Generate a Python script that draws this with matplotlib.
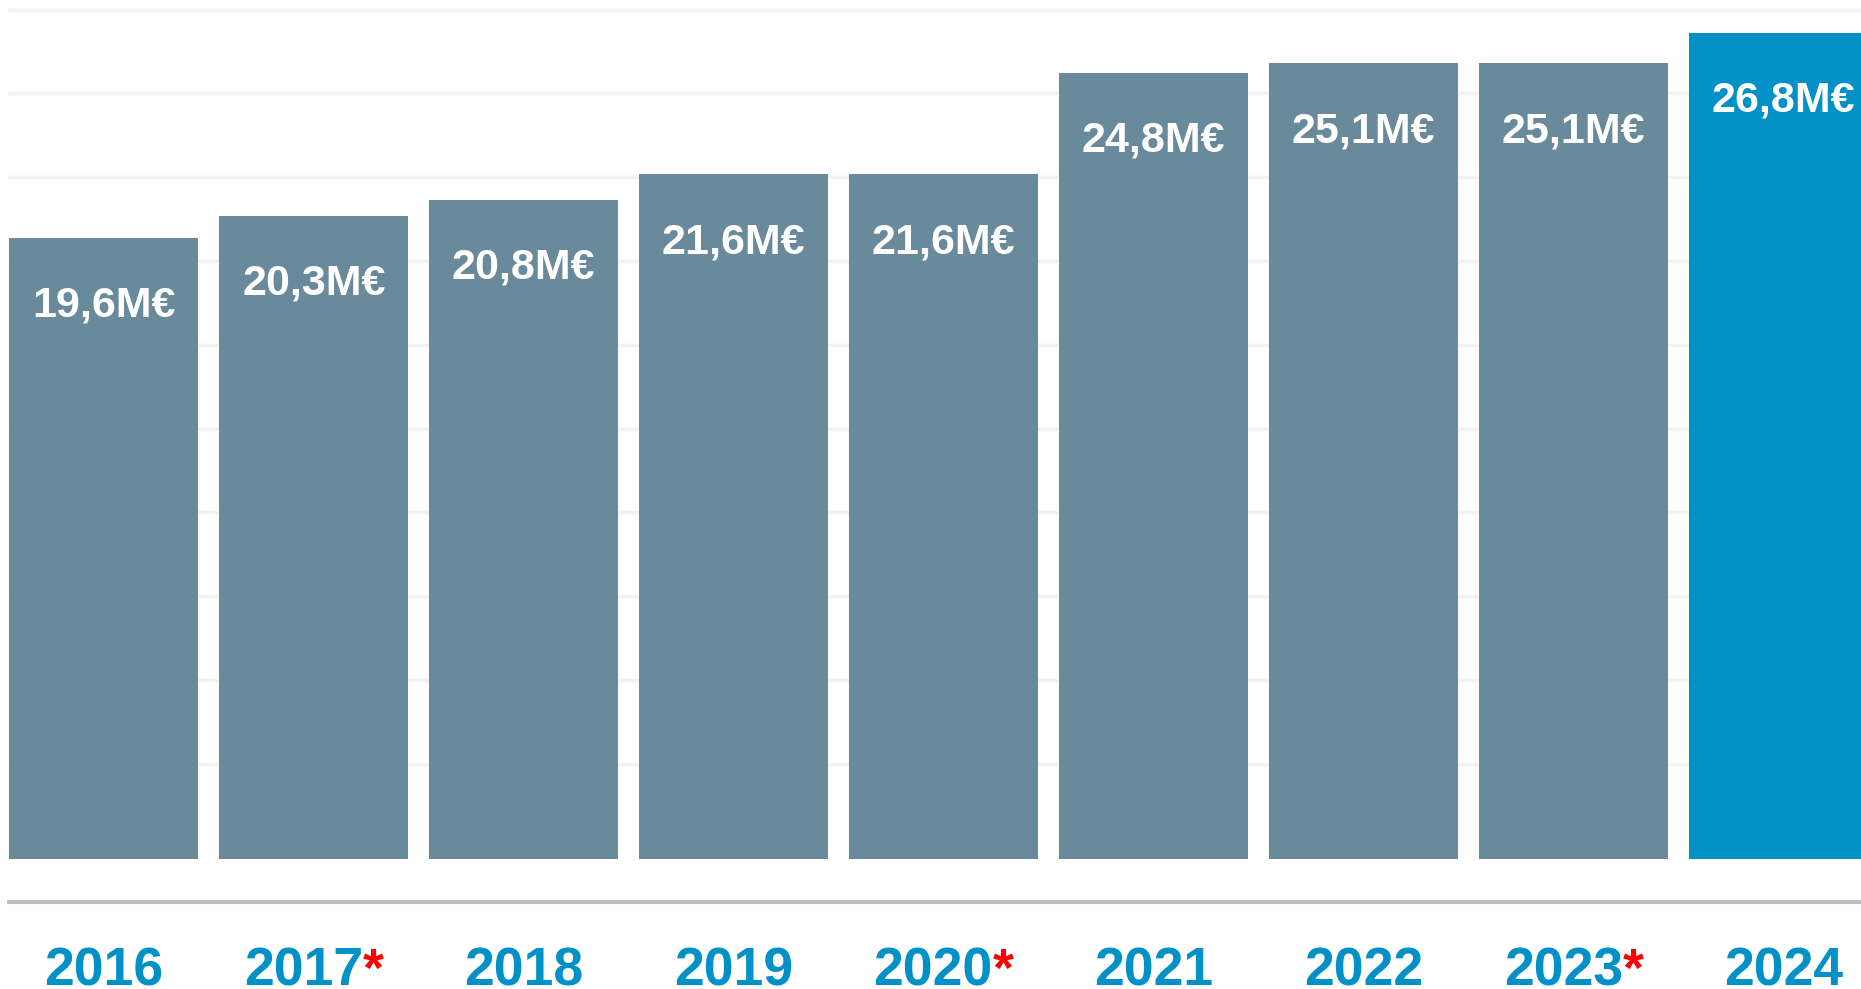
import matplotlib.pyplot as plt
import numpy as np

plt.rcParams['font.family'] = ['Liberation Sans', 'DejaVu Sans']

# values (bar heights in M EUR, 2024 bar is drawn a bit short)
years = ['2016', '2017', '2018', '2019', '2020', '2021', '2022', '2023', '2024']
starred = [False, True, False, False, True, False, False, True, False]
heights = [19.6, 20.3, 20.8, 21.6, 21.6, 24.8, 25.1, 25.1, 26.06]
labels = ['19,6M€', '20,3M€', '20,8M€', '21,6M€', '21,6M€', '24,8M€', '25,1M€', '25,1M€', '26,8M€']
grid_y = np.linspace(3.0, 26.8, 10)

grey = '#698a9a'
blue = '#0191c7'
colors = [grey] * 8 + [blue]

fig = plt.figure(figsize=(18.61, 9.89), dpi=100)
ax = fig.add_axes([0, 0, 1, 1])
ax.set_xlim(-0.494, 8.368)
ax.set_ylim(-4.10, 27.10)
ax.axis('off')

x = np.arange(len(years))

# light horizontal gridlines behind the bars
ax.hlines(grid_y, -0.456, 8.4, color='#f2f2f2', lw=2.5, zorder=0)
# grey base line under the bars
ax.hlines(-1.36, -0.46, 8.4, color='#bfbfbf', lw=2.9, zorder=1)

ax.bar(x, heights, width=0.9, color=colors, zorder=2)

for xi, h, lab in zip(x, heights, labels):
    ax.text(xi, h - 2.49, lab, ha='center', va='baseline', color='white',
            fontsize=31, fontweight='bold', zorder=3)

for xi, yr, st in zip(x, years, starred):
    if st:
        t = ax.text(xi - 0.05, -4.0, yr, ha='center', va='baseline', color=blue,
                    fontsize=38.5, fontweight='bold')
        ax.annotate('*', xy=(1, 0), xycoords=t, ha='left', va='bottom',
                    color='#ff0000', fontsize=38.5, fontweight='bold')
    else:
        ax.text(xi, -4.0, yr, ha='center', va='baseline', color=blue,
                fontsize=38.5, fontweight='bold')

fig.savefig('out.png', dpi=100)
